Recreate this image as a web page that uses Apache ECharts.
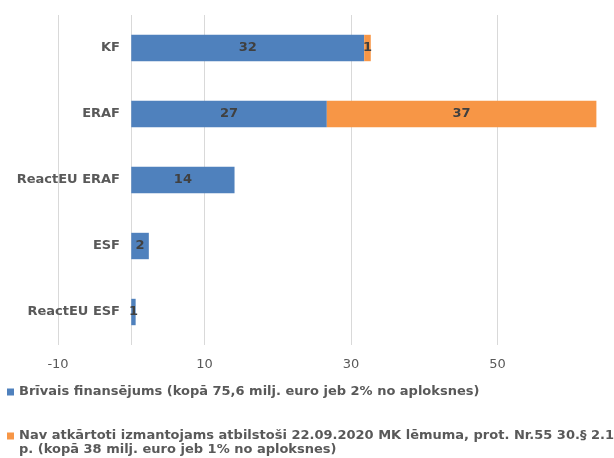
<!DOCTYPE html>
<html>
<head>
<meta charset="utf-8">
<script src="https://cdn.jsdelivr.net/npm/echarts@6/dist/echarts.min.js"></script>
<style>
    html, body { margin: 0; padding: 0; background: #fff; }
    #chart { width: 614px; height: 458px; }
</style>
</head>
<body>
<div id="chart"></div>
<script>
// dati
const categories = ['KF', 'ERAF', 'ReactEU ERAF', 'ESF', 'ReactEU ESF']
const freeFunding = [31.8, 26.7, 14.1, 2.4, 0.6]
const notReusable = [0.9, 36.8, null, null, null]
const seriesNames = [
    'Brīvais finansējums (kopā 75,6 milj. euro jeb 2% no aploksnes)',
    'Nav atkārtoti izmantojams atbilstoši 22.09.2020 MK lēmuma, prot. Nr.55 30.§ 2.1 p. (kopā 38 milj. euro jeb 1% no aploksnes)',
]
const tickLabels = [-10, 10, 30, 50]

const font = '"DejaVu Sans", Verdana, sans-serif'

const barLabel = {
    show: true,
    position: 'inside',
    color: '#404040',
    fontFamily: font,
    fontWeight: 'bold',
    fontSize: 13,
    formatter: function(p) {
        return Math.round(p.value)
    },
}

const legendText = {
    color: '#595959',
    fontFamily: font,
    fontWeight: 'bold',
    fontSize: 13,
    lineHeight: 14,
}

const makeOption = function() {
    const option = {
        animation: false,
        textStyle: { fontFamily: font },
        grid: {
            left: 58,
            top: 15,
            width: 586,
            height: 330,
            outerBoundsMode: 'none',
        },
        legend: [
            {
                orient: 'vertical',
                left: 7,
                top: 385,
                padding: 0,
                icon: 'rect',
                itemWidth: 7,
                itemHeight: 7,
                data: [seriesNames[0]],
                textStyle: legendText,
            },
            {
                orient: 'vertical',
                left: 7,
                top: 429,
                padding: 0,
                // kvadrāts pie pirmās rindas
                icon: 'path://M0,0h7v7h-7z M0,21h0.01v0.01h-0.01z',
                itemWidth: 7,
                itemHeight: 21,
                data: [seriesNames[1]],
                textStyle: legendText,
                formatter: function(name) {
                    return name.replace('2.1 p.', '2.1\np.')
                },
            },
        ],
        xAxis: {
            type: 'value',
            min: -10,
            max: 70,
            interval: 20,
            axisLine: { show: false },
            axisTick: { show: false },
            splitLine: { lineStyle: { color: '#d9d9d9' } },
            axisLabel: {
                color: '#595959',
                fontFamily: font,
                fontSize: 13,
                margin: 13,
                formatter: function(v) {
                    return tickLabels.indexOf(v) >= 0 ? String(v) : ''
                },
            },
        },
        yAxis: {
            type: 'category',
            inverse: true,
            data: categories,
            axisLine: { show: false, onZero: false },
            axisTick: { show: false },
            axisLabel: {
                color: '#595959',
                fontFamily: font,
                fontWeight: 'bold',
                fontSize: 13,
                margin: -62,
            },
        },
        series: [
            {
                name: seriesNames[0],
                type: 'bar',
                stack: 'total',
                barWidth: '40%',
                data: freeFunding,
                itemStyle: { color: '#4F81BD' },
                label: barLabel,
                markLine: {
                    silent: true,
                    symbol: 'none',
                    label: { show: false },
                    lineStyle: { color: '#d9d9d9', type: 'solid', width: 1 },
                    data: [{ xAxis: 0 }],
                    z: 1,
                },
            },
            {
                name: seriesNames[1],
                type: 'bar',
                stack: 'total',
                barWidth: '40%',
                data: notReusable,
                itemStyle: { color: '#F79646' },
                label: barLabel,
            },
        ],
    }
    return option
}

const __main = function() {
    const chart = echarts.init(document.getElementById('chart'))
    chart.setOption(makeOption())
}

__main()
</script>
</body>
</html>
